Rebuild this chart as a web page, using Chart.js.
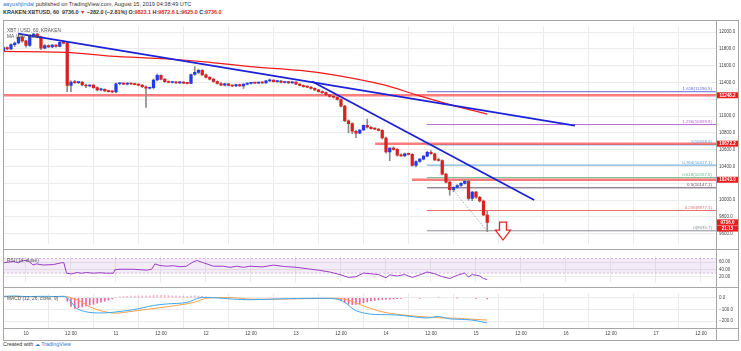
<!DOCTYPE html>
<html>
<head>
<meta charset="utf-8">
<script src="https://cdn.jsdelivr.net/npm/chart.js@4.4.0/dist/chart.umd.min.js"></script>
<style>
  body { margin: 0; width: 741px; height: 351px; background: #fff; position: relative; overflow: hidden; font-family: "Liberation Sans", Arial, sans-serif; }
  canvas { position: absolute; left: 0; }
  .hdr { position: absolute; left: 3px; white-space: nowrap; color: #333; }
  #hdr1 { top: 1px; font-size: 5.6px; }
  #hdr2 { top: 9px; font-size: 5.4px; font-weight: bold; }
  .red { color: #e0262b; }
  .blue { color: #2a7bd6; }
  .ln { position: absolute; background: #a6a6a6; }
  #foot { position: absolute; left: 3px; top: 341px; font-size: 5.4px; color: #333; }
</style>
</head>
<body>
<div id="hdr1" class="hdr"><span class="blue">aayushjindal</span> published on TradingView.com, August 15, 2019 04:38:49 UTC</div>
<div id="hdr2" class="hdr">KRAKEN:XBTUSD, 60&nbsp; 9736.0 <span class="red">▼</span> −282.0 (−2.81%) O:<span class="red">9823.1</span> H:<span class="red">9872.6</span> L:<span class="red">9625.0</span> C:<span class="red">9736.0</span></div>

<canvas id="main" width="741" height="230" style="top:20px"></canvas>
<canvas id="rsi" width="741" height="38" style="top:250px"></canvas>
<canvas id="macd" width="741" height="52" style="top:288px"></canvas>

<!-- frame -->
<div class="ln" style="left:3px;top:20px;width:736px;height:1px"></div>
<div class="ln" style="left:3px;top:340px;width:736px;height:1px"></div>
<div class="ln" style="left:3px;top:20px;width:1px;height:321px"></div>
<div class="ln" style="left:738px;top:20px;width:1px;height:321px"></div>
<div class="ln" style="left:716px;top:20px;width:1px;height:320px"></div>
<div class="ln" style="left:3px;top:249px;width:736px;height:1px"></div>
<div class="ln" style="left:3px;top:287px;width:736px;height:1px"></div>
<div class="ln" style="left:3px;top:328px;width:736px;height:1px"></div>

<div id="foot">Created with <span class="blue">&#9729; TradingView</span></div>

<script>
// ---------------- data ----------------
const startHour = -6;   // first candle: Aug 9, 18:00
// hourly candles [open, high, low, close]
const candles = [
  [11770, 11830, 11755, 11815], [11815, 11825, 11790, 11800], [11800, 11860, 11790, 11850], [11850, 11880, 11830, 11870],
  [11870, 11960, 11860, 11940], [11940, 11955, 11880, 11895], [11895, 11905, 11820, 11840], [11840, 11965, 11830, 11950],
  [11950, 11985, 11940, 11975], [11975, 11985, 11930, 11945], [11945, 11950, 11790, 11810], [11810, 11850, 11800, 11840],
  [11840, 11848, 11815, 11825], [11825, 11850, 11815, 11845], [11845, 11852, 11820, 11830], [11830, 11885, 11825, 11878],
  [11878, 11895, 11860, 11868], [11868, 11880, 11290, 11365], [11365, 11420, 11290, 11405], [11405, 11425, 11390, 11398],
  [11398, 11410, 11385, 11405], [11405, 11412, 11360, 11370], [11370, 11380, 11340, 11358], [11358, 11375, 11350, 11368],
  [11368, 11375, 11330, 11340], [11340, 11350, 11300, 11312], [11312, 11330, 11300, 11320], [11320, 11325, 11295, 11300],
  [11300, 11310, 11285, 11292], [11292, 11300, 11275, 11288], [11288, 11395, 11275, 11385], [11385, 11400, 11370, 11392],
  [11392, 11398, 11375, 11380], [11380, 11395, 11372, 11388], [11388, 11395, 11375, 11382], [11382, 11392, 11370, 11375],
  [11375, 11385, 11360, 11368], [11368, 11375, 11340, 11350], [11350, 11360, 11105, 11332], [11332, 11345, 11320, 11340],
  [11340, 11440, 11325, 11430], [11430, 11500, 11420, 11485], [11485, 11490, 11430, 11440], [11440, 11448, 11400, 11410],
  [11410, 11420, 11395, 11400], [11400, 11415, 11392, 11408], [11408, 11412, 11390, 11395], [11395, 11410, 11388, 11405],
  [11405, 11410, 11385, 11392], [11392, 11400, 11382, 11390], [11390, 11500, 11385, 11495], [11495, 11590, 11485, 11520],
  [11520, 11560, 11505, 11545], [11545, 11555, 11485, 11490], [11490, 11500, 11455, 11462], [11462, 11470, 11430, 11440],
  [11440, 11448, 11405, 11412], [11412, 11420, 11380, 11388], [11388, 11400, 11362, 11368], [11368, 11392, 11360, 11385],
  [11385, 11390, 11360, 11365], [11365, 11372, 11350, 11358], [11358, 11380, 11352, 11375], [11375, 11380, 11355, 11360],
  [11360, 11385, 11330, 11380], [11380, 11395, 11372, 11390], [11390, 11400, 11380, 11396], [11396, 11402, 11385, 11392],
  [11392, 11405, 11388, 11400], [11400, 11405, 11390, 11395], [11395, 11425, 11390, 11420], [11420, 11440, 11410, 11428],
  [11428, 11432, 11405, 11410], [11410, 11422, 11402, 11418], [11418, 11425, 11395, 11400], [11400, 11415, 11392, 11410],
  [11410, 11415, 11390, 11395], [11395, 11410, 11388, 11405], [11405, 11410, 11375, 11380], [11380, 11388, 11360, 11365],
  [11365, 11372, 11345, 11352], [11352, 11360, 11340, 11345], [11345, 11352, 11320, 11330], [11330, 11338, 11305, 11312],
  [11312, 11320, 11285, 11292], [11292, 11300, 11270, 11280], [11280, 11290, 11245, 11252], [11252, 11260, 11225, 11235],
  [11235, 11245, 11215, 11225], [11225, 11232, 11190, 11198], [11198, 11205, 11110, 11120], [11120, 11130, 10935, 10945],
  [10945, 10955, 10800, 10910], [10910, 10920, 10790, 10820], [10820, 10835, 10745, 10798], [10798, 10840, 10790, 10835],
  [10835, 10895, 10828, 10890], [10890, 10965, 10858, 10868], [10868, 10880, 10845, 10852], [10852, 10862, 10840, 10845],
  [10845, 10852, 10825, 10830], [10830, 10840, 10730, 10740], [10740, 10750, 10560, 10575], [10575, 10625, 10470, 10620],
  [10620, 10635, 10595, 10605], [10605, 10615, 10525, 10535], [10535, 10550, 10520, 10528], [10528, 10560, 10520, 10552],
  [10552, 10560, 10538, 10545], [10545, 10555, 10405, 10415], [10415, 10470, 10395, 10460], [10460, 10495, 10450, 10488],
  [10488, 10530, 10480, 10525], [10525, 10580, 10515, 10570], [10570, 10590, 10545, 10552], [10552, 10560, 10470, 10480],
  [10480, 10500, 10465, 10472], [10472, 10480, 10300, 10310], [10310, 10320, 10205, 10215], [10215, 10225, 10060, 10125],
  [10125, 10160, 10100, 10152], [10152, 10185, 10140, 10175], [10175, 10210, 10165, 10200], [10200, 10240, 10190, 10225],
  [10225, 10235, 10000, 10020], [10020, 10105, 9995, 10095], [10095, 10105, 10020, 10035], [10035, 10045, 9980, 9990],
  [9990, 10000, 9815, 9823.1], [9823.1, 9872.6, 9625.0, 9736.0]
];

// MA(100, close)
const maHours  = [-6.1, 11, 22.4, 37.6, 47.7, 59.7, 73.1, 82.4, 95.2, 104.3, 113.1, 123];
const maValues = [11770, 11759, 11714, 11680, 11646, 11589, 11544, 11488, 11374, 11250, 11137, 11024];

// drawn trend lines [hour, price] pairs
const trendA = [[-2.1, 11982], [146.4, 10888]];
const trendB = [[76.3, 11413], [135.5, 10002]];

// horizontal levels
const levelPrices = [11248.2, 10672.2, 10243.0];
const levelStart  = [-6.1, 93.1, 102.9];

// fibonacci retracement
const fibRatios = ['0', '0.236', '0.5', '0.618', '0.764', '1', '1.236', '1.618'];
const fibPrices = [9635.7, 9877.1, 10147.1, 10267.8, 10417.1, 10658.5, 10899.8, 11290.5];
const fibColors = ['#8a8d96', '#e57373', '#6d4f66', '#66bb8a', '#5aa4d8', '#5aa4d8', '#b56ad6', '#5c6bdc'];
const fibStart = 106.9;
const fibDiag = [[112.5, 10200], [123, 9630]];

// RSI(14)
const rsiHours = [-6, -3.4, -2, -0.7, 0.6, 1.9, 2.8, 4.6, 7.3, 9.5, 10.1, 10.8, 12.2, 13.5, 14.8, 16.2, 17.9, 19.7, 21.5, 23.3,
  23.7, 25.1, 28.6, 30.4, 32.2, 33.5, 34.4, 35.7, 37.5, 39.3, 41.1, 42.8, 44.2, 45.5, 47.3, 50, 52.6, 54.4, 56.2, 58, 59.7,
  63, 66, 69, 72, 75, 78, 81, 84, 86, 88, 90, 92, 94, 96, 97, 99, 101, 103, 105, 107, 109, 111, 113, 115, 117, 118, 119, 121, 122, 123];
const rsiValues = [58.6, 61.9, 58.6, 65, 63.9, 52.3, 55.4, 52.3, 53.5, 58.6, 58.6, 29.6, 27.7, 31.6, 29.6, 31.6, 29.6, 31, 29.6, 29.6,
  39.3, 40.6, 40.6, 39.3, 38, 40.6, 55.4, 50.9, 49, 50.3, 47.6, 49, 58.6, 65, 58.6, 49, 49, 45.8, 49, 45.8, 49,
  47, 52, 48, 46, 42, 38, 33, 25, 18, 20, 30, 28, 26, 17, 25, 22, 26, 18, 25, 33, 28, 20, 15, 24, 30, 19, 26, 22, 15, 12];
const rsiBand = [30, 70];

// MACD(12, 26, close, 9)
const macdHours   = [-6, -3, 0, 4, 8.2, 10.8, 13.5, 16.2, 19.7, 22.4, 28.6, 34, 37.5, 42.8, 46.4, 50, 55.3, 59.7, 70, 80, 83, 85, 88, 92, 97, 100, 104, 107, 110, 113, 117, 120, 123];
const macdValues  = [12, 15, 10, 12, 10, 5, -90, -121, -130, -126, -102, -66, -53, -41, 0, 0, -12, -17, -8, -5, -12, -40, -110, -140, -145, -150, -165, -172, -160, -180, -185, -195, -215];
const signalHours = [-6, 0, 8, 10.8, 14.4, 17.9, 23.3, 28.6, 37.5, 44.6, 48.2, 55.3, 59.7, 70, 80, 83, 86, 90, 95, 100, 105, 110, 115, 120, 123];
const signalValues= [10, 10, 10, 10, -29, -90, -131, -114, -77, -41, -4, 0, -12, -10, -6, -5, -20, -70, -120, -145, -160, -170, -175, -185, -190];
const histHours  = [11, 12, 13, 14, 15, 16, 17, 18, 19, 20, 21, 22, 23, 24, 25, 26, 27, 28, 29, 30, 31, 32, 33, 34, 35, 36, 37, 38, 39, 40, 41, 42, 43, 44, 45, 46, 47, 48, 49,
  83, 84, 85, 86, 87, 88, 89, 90, 91, 92, 93, 94, 95, 96, 97, 98, 99, 100, 105, 110, 115, 120, 123];
const histValues = [-30, -75, -90, -85, -78, -70, -62, -54, -46, -38, -30, -20, -10, 4, 8, 10, 12, 13, 14, 15, 16, 16, 17, 18, 20, 20, 19, 18, 17, 16, 14, 12, 12, 14, 16, 15, 12, 8, 5,
  -10, -25, -40, -55, -60, -58, -50, -42, -35, -28, -22, -18, -15, -14, -12, -10, -8, -6, -5, 6, -4, -6, -10];

// time axis
const tickHours  = [0, 12, 24, 36, 48, 60, 72, 84, 96, 108, 120, 132, 144, 156, 168, 180];
const tickLabels = ['10', '12:00', '11', '12:00', '12', '12:00', '13', '12:00', '14', '12:00', '15', '12:00', '16', '12:00', '17', '12:00'];
const priceTicks = [9600, 9800, 10000, 10200, 10400, 10600, 10800, 11000, 11200, 11400, 11600, 11800, 12000];

// ---------------- styling ----------------
const FONT = '"Liberation Sans", Arial, sans-serif';
const GRID = '#ebebeb';
const UP = '#1f3ce6', DOWN = '#dc1f1f', WICK = '#8c8c8c';
const X_MIN = -6.13, X_MAX = 184;

function xScale(showLabels) {
  return {
    type: 'linear', min: X_MIN, max: X_MAX, offset: false,
    afterBuildTicks: s => { s.ticks = tickHours.map(v => ({ value: v })); },
    afterFit: s => { s.height = showLabels ? 12 : 0; },
    grid: { color: GRID, drawTicks: false },
    border: { display: false },
    ticks: showLabels
      ? { font: { size: 4.7, family: FONT }, color: '#444', padding: 3, maxRotation: 0, autoSkip: false,
          callback: v => tickLabels[tickHours.indexOf(v)] }
      : { display: false }
  };
}
function yScale(min, max, ticks, fmt) {
  return {
    type: 'linear', position: 'right', min: min, max: max,
    afterBuildTicks: s => { s.ticks = ticks.map(v => ({ value: v })); },
    afterFit: s => { s.width = 25; },
    grid: { color: GRID, drawTicks: false },
    border: { display: false },
    ticks: { font: { size: 4.5, family: FONT }, color: '#444', padding: 3, callback: fmt }
  };
}
const pts = pairs => pairs.map(p => ({ x: p[0], y: p[1] }));
const lineDs = (data, color, width, order, extra) => Object.assign({
  type: 'line', data: data, borderColor: color, borderWidth: width, pointRadius: 0, fill: false, order: order
}, extra || {});

// legend text in the top-left corner of each pane
const paneText = {
  id: 'paneText',
  afterDraw(chart, args, opts) {
    const ctx = chart.ctx;
    ctx.save();
    ctx.font = '4.8px ' + FONT;
    ctx.fillStyle = '#555';
    ctx.textBaseline = 'middle';
    (opts.lines || []).forEach((t, i) => ctx.fillText(t, chart.chartArea.left + 4, chart.chartArea.top + 4.5 + i * 6.8));
    ctx.restore();
  }
};

// fib labels, arrow and price tags on the axis
const mainOverlay = {
  id: 'mainOverlay',
  afterDatasetsDraw(chart) {
    const { ctx, chartArea: a, scales: { x, y } } = chart;
    ctx.save();
    ctx.font = '4.4px ' + FONT;
    ctx.textAlign = 'right';
    ctx.textBaseline = 'bottom';
    fibRatios.forEach((r, i) => {
      ctx.fillStyle = fibColors[i];
      ctx.fillText(r + '(' + fibPrices[i].toFixed(1) + ')', a.right - 4, y.getPixelForValue(fibPrices[i]) - 0.6);
    });
    // hollow down arrow
    const cx = x.getPixelForValue(127.2), top = y.getPixelForValue(9740);
    ctx.beginPath();
    ctx.moveTo(cx - 3.5, top); ctx.lineTo(cx + 3.5, top); ctx.lineTo(cx + 3.5, top + 8);
    ctx.lineTo(cx + 7.5, top + 8); ctx.lineTo(cx, top + 18); ctx.lineTo(cx - 7.5, top + 8);
    ctx.lineTo(cx - 3.5, top + 8); ctx.closePath();
    ctx.fillStyle = '#fff'; ctx.fill();
    ctx.strokeStyle = '#e8262b'; ctx.lineWidth = 1.3; ctx.stroke();
    ctx.restore();
  },
  afterDraw(chart) {
    const { ctx, chartArea: a, scales: { y } } = chart;
    ctx.save();
    ctx.font = 'bold 4.5px ' + FONT;
    ctx.textAlign = 'center';
    ctx.textBaseline = 'middle';
    const tag = (py, text) => {
      ctx.fillStyle = '#f0191c';
      ctx.fillRect(a.right + 0.5, py - 3, 22, 6);
      ctx.fillStyle = '#fff';
      ctx.fillText(text, a.right + 11.5, py + 0.3);
    };
    levelPrices.forEach(p => tag(y.getPixelForValue(p), p.toFixed(1)));
    const last = candles[candles.length - 1][3];
    tag(y.getPixelForValue(last), last.toFixed(1));
    tag(y.getPixelForValue(last) + 6.2, '21:15');
    ctx.restore();
  }
};

// ---------------- main price pane ----------------
const wickData = candles.map((c, i) => ({ x: startHour + i, y: [c[2], c[1]] }));
const bodyData = candles.map((c, i) => ({ x: startHour + i, y: [c[0], c[3]] }));
const bodyColors = candles.map(c => (c[3] >= c[0] ? UP : DOWN));

const mainDatasets = [
  { type: 'bar', data: wickData, backgroundColor: WICK, barThickness: 1, grouped: false, order: 6 },
  { type: 'bar', data: bodyData, backgroundColor: bodyColors, barThickness: 2.6, minBarLength: 1, grouped: false, order: 5 },
  lineDs(maHours.map((h, i) => ({ x: h, y: maValues[i] })), '#f21b1b', 1.2, 3, { tension: 0.3 }),
  lineDs(pts(trendA), '#1c22d8', 1.8, 1),
  lineDs(pts(trendB), '#1c22d8', 1.8, 1),
  lineDs(pts(fibDiag), '#9a9a9a', 0.8, 4, { borderDash: [1.5, 1.5] })
];
levelPrices.forEach((p, i) => mainDatasets.push(
  lineDs([{ x: levelStart[i], y: p }, { x: X_MAX, y: p }], 'rgba(250,80,80,0.75)', 2.4, 7)));
fibPrices.forEach((p, i) => mainDatasets.push(
  lineDs([{ x: fibStart, y: p }, { x: X_MAX, y: p }], fibColors[i], 1, 8)));

new Chart(document.getElementById('main'), {
  type: 'bar',
  data: { datasets: mainDatasets },
  options: {
    responsive: false, animation: false,
    layout: { padding: { left: 3, right: 0, top: 0, bottom: 0 } },
    plugins: { legend: { display: false }, tooltip: { enabled: false },
      paneText: { lines: ['XBT / USD, 60, KRAKEN', 'MA (100, close)'] } },
    scales: {
      x: xScale(false),
      y: yScale(9475, 12076, priceTicks, v => (v === 11200 || v === 10200 ? '' : v.toFixed(1)))
    }
  },
  plugins: [paneText, mainOverlay]
});

// ---------------- RSI pane ----------------
new Chart(document.getElementById('rsi'), {
  type: 'line',
  data: { datasets: [
    lineDs([{ x: X_MIN, y: rsiBand[1] }, { x: X_MAX, y: rsiBand[1] }], '#caa3dc', 0.8, 3,
      { borderDash: [2, 2], fill: '+1', backgroundColor: 'rgba(160,90,200,0.12)' }),
    lineDs([{ x: X_MIN, y: rsiBand[0] }, { x: X_MAX, y: rsiBand[0] }], '#caa3dc', 0.8, 2, { borderDash: [2, 2] }),
    lineDs(rsiHours.map((h, i) => ({ x: h, y: rsiValues[i] })), '#9b3fc4', 1, 1)
  ] },
  options: {
    responsive: false, animation: false,
    layout: { padding: { left: 3, right: 0, top: 0, bottom: 0 } },
    plugins: { legend: { display: false }, tooltip: { enabled: false }, paneText: { lines: ['RSI (14, close)'] } },
    scales: { x: xScale(false), y: yScale(4.5, 78, [20, 40, 60], v => v.toFixed(2)) }
  },
  plugins: [paneText]
});

// ---------------- MACD pane ----------------
new Chart(document.getElementById('macd'), {
  type: 'bar',
  data: { datasets: [
    { type: 'bar', data: histHours.map((h, i) => ({ x: h, y: histValues[i] })),
      backgroundColor: histValues.map(v => (v < 0 ? 'rgba(240,70,140,0.85)' : 'rgba(245,120,170,0.6)')),
      barThickness: 1, grouped: false, order: 3 },
    lineDs(macdHours.map((h, i) => ({ x: h, y: macdValues[i] })), '#3fa8f0', 1, 1, { tension: 0.3 }),
    lineDs(signalHours.map((h, i) => ({ x: h, y: signalValues[i] })), '#f5a04a', 1, 2, { tension: 0.3 })
  ] },
  options: {
    responsive: false, animation: false,
    layout: { padding: { left: 3, right: 0, top: 0, bottom: 0 } },
    plugins: { legend: { display: false }, tooltip: { enabled: false }, paneText: { lines: ['MACD (12, 26, close, 9)'] } },
    scales: {
      x: xScale(true),
      y: yScale(-257.7, 34.3, [-200, -100, 0], v => (v === 0 ? '0.0' : '\u2212' + Math.abs(v).toFixed(1)))
    }
  },
  plugins: [paneText]
});
</script>
</body>
</html>
